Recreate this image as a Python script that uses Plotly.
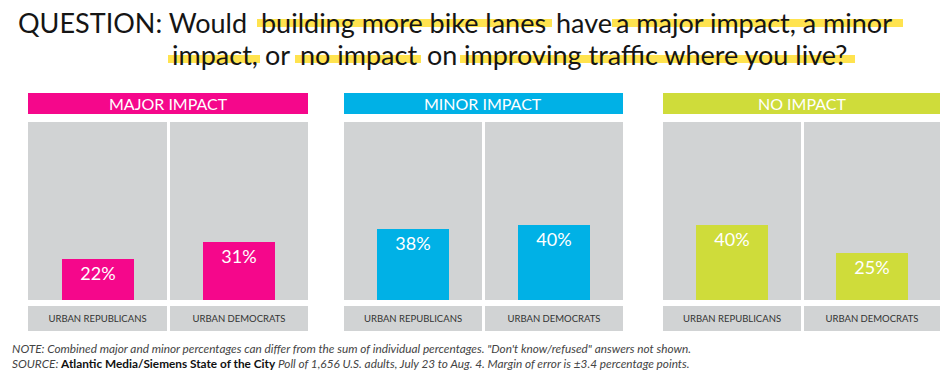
import plotly.graph_objects as go

W, H = 940, 373

panels = ["MAJOR IMPACT", "MINOR IMPACT", "NO IMPACT"]
groups = ["URBAN REPUBLICANS", "URBAN DEMOCRATS"]
major_impact = [22, 31]
minor_impact = [38, 40]
no_impact = [40, 25]
series = [major_impact, minor_impact, no_impact]
colors = ["#F5078B", "#00B1E6", "#CFDC3A"]
GRAY = "#D1D3D4"

# layout geometry in pixels
col_px = [[(28, 167), (170, 308)], [(344, 482), (485, 623)], [(663, 801), (804, 940)]]
plot_top, plot_bot = 122, 300
strip_top, strip_bot = 306, 331
head_top, head_bot = 93, 114
bar_px = 72

def px(x):
    return x / W

def py(y):
    return 1 - y / H

fig = go.Figure()
layout = {}
shapes = []
annotations = []
k = 0
for p, vals in enumerate(series):
    for c, g in enumerate(groups):
        k += 1
        x0, x1 = col_px[p][c]
        xa = "x" if k == 1 else f"x{k}"
        ya = "y" if k == 1 else f"y{k}"
        fig.add_trace(go.Bar(
            x=[g], y=[vals[c]], xaxis=xa, yaxis=ya,
            marker=dict(color=colors[p], line=dict(width=0)),
            width=bar_px / (x1 - x0),
            texttemplate="%{y}%", textposition="inside", insidetextanchor="end",
            textfont=dict(color="white", size=18, family="Lato"),
            showlegend=False, hoverinfo="skip",
        ))
        layout[f"xaxis{'' if k == 1 else k}"] = dict(
            domain=[px(x0), px(x1)], anchor=ya, range=[-0.5, 0.5],
            showgrid=False, zeroline=False, showline=False, ticks="",
            tickfont=dict(size=9.5, color="#333333", family="Lato"),
            ticklabelstandoff=11, fixedrange=True,
        )
        layout[f"yaxis{'' if k == 1 else k}"] = dict(
            domain=[py(plot_bot), py(plot_top)], anchor=xa, range=[0, 95.5],
            showgrid=False, zeroline=False, showticklabels=False, fixedrange=True,
        )
        shapes.append(dict(type="rect", xref="paper", yref="paper",
                           x0=px(x0), x1=px(x1), y0=py(strip_bot), y1=py(strip_top),
                           fillcolor=GRAY, line=dict(width=0), layer="below"))
    hx0 = col_px[p][0][0]
    hx1 = col_px[p][1][1]
    shapes.append(dict(type="rect", xref="paper", yref="paper",
                       x0=px(hx0), x1=px(hx1), y0=py(head_bot), y1=py(head_top),
                       fillcolor=colors[p], line=dict(width=0)))
    annotations.append(dict(text=panels[p], xref="paper", yref="paper",
                            x=px((hx0 + hx1) / 2), y=py((head_top + head_bot) / 2 + 0.5),
                            xanchor="center", yanchor="middle", showarrow=False,
                            font=dict(color="white", size=16, family="Lato")))

# title: text segments and highlight bands
HL = "#FFE03C"
title_font = dict(size=27, color="#151515", family="Lato")
line1_y, line2_y = 22, 55
segments = [
    ("QUESTION: Would", 19, line1_y),
    ("building more bike lanes", 262, line1_y),
    ("have", 557, line1_y),
    ("a major impact, a minor", 617, line1_y),
    ("impact,", 173, line2_y),
    ("or", 266, line2_y),
    ("no impact", 301, line2_y),
    ("on", 428, line2_y),
    ("improving traffic where you live?", 465, line2_y),
]
highlights = [(257, 552, 19, 27), (612, 903, 19, 27),
              (168, 260, 55, 63), (295, 421, 55, 63), (460, 855, 55, 63)]
for hx0, hx1, hy0, hy1 in highlights:
    shapes.append(dict(type="rect", xref="paper", yref="paper",
                       x0=px(hx0), x1=px(hx1), y0=py(hy1), y1=py(hy0),
                       fillcolor=HL, opacity=0.9, line=dict(width=0)))
for txt, sx, sy in segments:
    annotations.append(dict(text=txt, xref="paper", yref="paper", x=px(sx - 3), y=py(sy),
                            xanchor="left", yanchor="middle", showarrow=False,
                            font=title_font))

note_font = dict(size=11.8, color="#444444", family="Lato")
annotations.append(dict(
    text="<i>NOTE: Combined major and minor percentages can differ from the sum of individual percentages. \"Don't know/refused\" answers not shown.</i>",
    xref="paper", yref="paper", x=px(10), y=py(348), xanchor="left", yanchor="middle",
    showarrow=False, font=note_font))
annotations.append(dict(
    text="<i>SOURCE: </i><b><span style='color:#111111'>Atlantic Media/Siemens State of the City</span></b><i> Poll of 1,656 U.S. adults, July 23 to Aug. 4. Margin of error is ±3.4 percentage points.</i>",
    xref="paper", yref="paper", x=px(10), y=py(363), xanchor="left", yanchor="middle",
    showarrow=False, font=note_font))

fig.update_layout(
    width=W, height=H, margin=dict(l=0, r=0, t=0, b=0),
    paper_bgcolor="white", plot_bgcolor=GRAY,
    shapes=shapes, annotations=annotations, bargap=0,
    **layout,
)
fig.write_html("out.html", config={"displayModeBar": False},
               post_script="document.body.style.margin='0';document.body.style.overflow='hidden';")
